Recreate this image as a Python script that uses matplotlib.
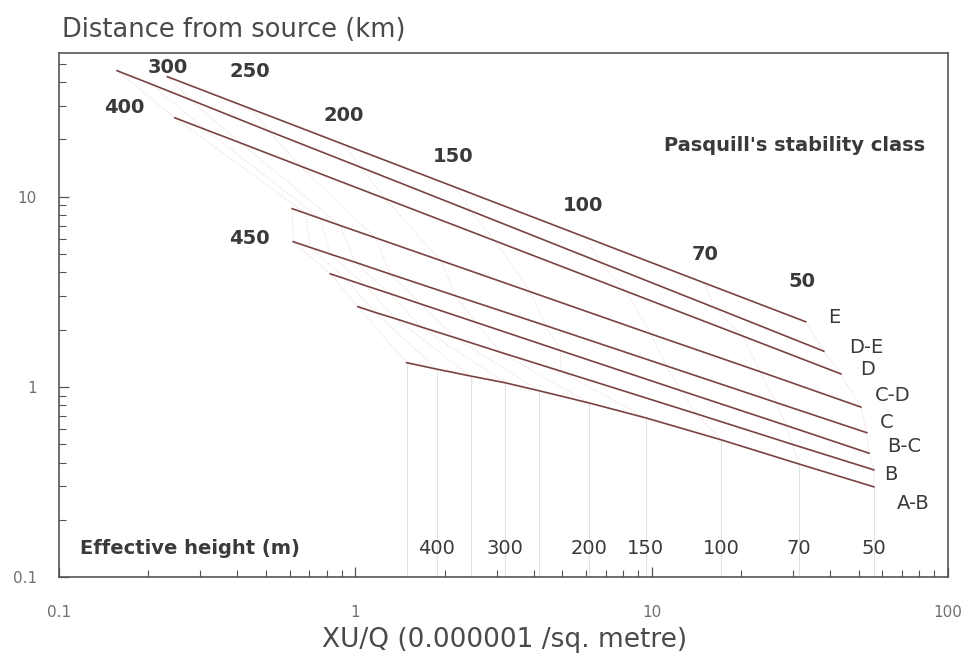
"""
Pasquill stability class chart: max ground-level XU/Q against distance
from source, one line per stability class, faint lines joining equal
effective heights.
"""

import numpy as np
import matplotlib
matplotlib.use("Agg")
import matplotlib.pyplot as plt

nan = np.nan

# effective heights (m) at which each class line is evaluated
heights = [450, 400, 350, 300, 250, 200, 150, 100, 70, 50]
classes = ["E", "D-E", "D", "C-D", "C", "B-C", "B", "A-B"]

# XU/Q (1e-6 /m^2) and distance (km) per class, one entry per height
x_E = [nan, nan, nan, 0.232, 0.442, 0.925, 2.18, 5.98, 15.2, 33.1]
y_E = [nan, nan, nan, 42.8, 29.1, 18.7, 11.2, 6.12, 3.50, 2.20]
x_DE = [nan, 0.157, 0.203, 0.277, 0.508, 1.04, 2.45, 6.73, 16.2, 38.1]
y_DE = [nan, 46.0, 39.3, 32.4, 22.2, 14.3, 8.43, 4.51, 2.62, 1.54]
x_D = [nan, 0.246, 0.311, 0.409, 0.652, 1.26, 2.97, 8.17, 20.3, 43.5]
y_D = [nan, 26.0, 22.6, 19.2, 14.5, 9.77, 5.85, 3.19, 1.85, 1.17]
x_CD = [0.612, 0.678, 0.762, 0.890, 1.17, 1.94, 3.90, 9.92, 23.3, 50.8]
y_CD = [8.65, 8.19, 7.68, 7.05, 6.08, 4.62, 3.16, 1.90, 1.20, 0.783]
x_C = [0.617, 0.705, 0.823, 1.00, 1.31, 2.18, 4.39, 11.2, 26.2, 53.2]
y_C = [5.80, 5.41, 4.99, 4.52, 3.92, 3.01, 2.10, 1.29, 0.829, 0.574]
x_BC = [0.823, 0.925, 1.08, 1.31, 1.66, 2.54, 4.93, 12.5, 28.4, 54.1]
y_BC = [3.93, 3.70, 3.41, 3.09, 2.73, 2.19, 1.55, 0.957, 0.627, 0.448]
x_B = [1.02, 1.17, 1.37, 1.66, 2.18, 3.09, 4.93, 14.1, 29.9, 56.2]
y_B = [2.64, 2.46, 2.28, 2.07, 1.81, 1.52, 1.21, 0.723, 0.498, 0.366]
x_AB = [1.49, 1.88, 2.45, 3.21, 4.18, 6.13, 9.55, 17.2, 31.4, 56.2]
y_AB = [1.34, 1.24, 1.14, 1.05, 0.953, 0.824, 0.687, 0.526, 0.393, 0.298]

# heights labelled along the bottom (A-B verticals)
bottom_heights = [400, 300, 200, 150, 100, 70, 50]

LINE = "#7a4343"
TEXT = "#3a3a3a"
TICK = "#707070"


def main():
    xs = [x_E, x_DE, x_D, x_CD, x_C, x_BC, x_B, x_AB]
    ys = [y_E, y_DE, y_D, y_CD, y_C, y_BC, y_B, y_AB]
    X = np.array(xs, dtype=float)
    Y = np.array(ys, dtype=float)

    fig = plt.figure(figsize=(9.73, 6.58), dpi=100)
    ax = fig.add_axes([59 / 973, 1 - 577 / 658, 889 / 973, 524 / 658])
    ax.set_xscale("log")
    ax.set_yscale("log")
    ax.set_xlim(0.1, 100)
    ax.set_ylim(0.1, 57)

    # faint lines of equal effective height
    for j in range(len(heights)):
        ok = ~np.isnan(X[:, j])
        ax.plot(X[ok, j], Y[ok, j], color="#f1d6d6", lw=0.8, ls=(0, (1, 1.5)), zorder=1)

    # verticals from the A-B line down to the axis
    ax.vlines(x_AB, 0.1, y_AB, color="#e2e2e2", lw=0.7, zorder=1)

    # stability class lines
    for xv, yv in zip(xs, ys):
        ax.plot(xv, yv, color=LINE, lw=1.2, zorder=3)

    # class labels at the right
    class_pos = [(41.2, 2.31), (52.8, 1.62), (53.7, 1.23), (65.2, 0.897),
                 (62.2, 0.646), (71.0, 0.483), (64.2, 0.344), (76.2, 0.245)]
    for name, (tx, ty) in zip(classes, class_pos):
        ax.text(tx, ty, name, ha="center", va="center", fontsize=14, color=TEXT)

    # height labels along the top / left
    top_labels = [("300", 0.233, 47.7), ("250", 0.442, 45.5), ("200", 0.911, 26.7),
                  ("150", 2.13, 16.2), ("100", 5.85, 8.97), ("70", 15.2, 4.95),
                  ("50", 32.1, 3.57), ("400", 0.166, 29.4), ("450", 0.438, 6.01)]
    for s, tx, ty in top_labels:
        ax.text(tx, ty, s, ha="center", va="center", fontsize=14,
                fontweight="semibold", color=TEXT)

    # height labels at the bottom, under the A-B verticals
    for h in bottom_heights:
        ax.text(x_AB[heights.index(h)], 0.142, str(h), ha="center", va="center",
                fontsize=14, color=TEXT)

    ax.text(0.024, 0.055, "Effective height (m)", transform=ax.transAxes,
            ha="left", va="center", fontsize=14, fontweight="bold", color=TEXT)
    ax.text(0.974, 0.824, "Pasquill's stability class", transform=ax.transAxes,
            ha="right", va="center", fontsize=14, fontweight="bold", color=TEXT)

    # axes styling
    for sp in ax.spines.values():
        sp.set_color("#555555")
        sp.set_linewidth(1.2)
    ax.set_xticks([0.1, 1, 10, 100])
    ax.set_xticklabels(["0.1", "1", "10", "100"])
    ax.set_yticks([0.1, 1, 10])
    ax.set_yticklabels(["0.1", "1", "10"])
    ax.tick_params(which="both", direction="in", colors="#555555",
                   labelcolor=TICK, labelsize=11, top=False, right=False)
    ax.tick_params(which="major", length=7, width=0.9)
    ax.tick_params(which="minor", length=5, width=0.8)
    ax.tick_params(axis="x", pad=20)
    ax.tick_params(axis="y", pad=16)

    fig.text(62 / 973, 1 - 30 / 658, "Distance from source (km)", ha="left",
             va="center", fontsize=18.5, color="#4a4a4a")
    fig.text(505 / 973, 1 - 640 / 658, "XU/Q (0.000001 /sq. metre)", ha="center",
             va="center", fontsize=19, color="#4a4a4a")

    fig.savefig("out.png", dpi=100)
    plt.close(fig)


if __name__ == "__main__":
    main()
